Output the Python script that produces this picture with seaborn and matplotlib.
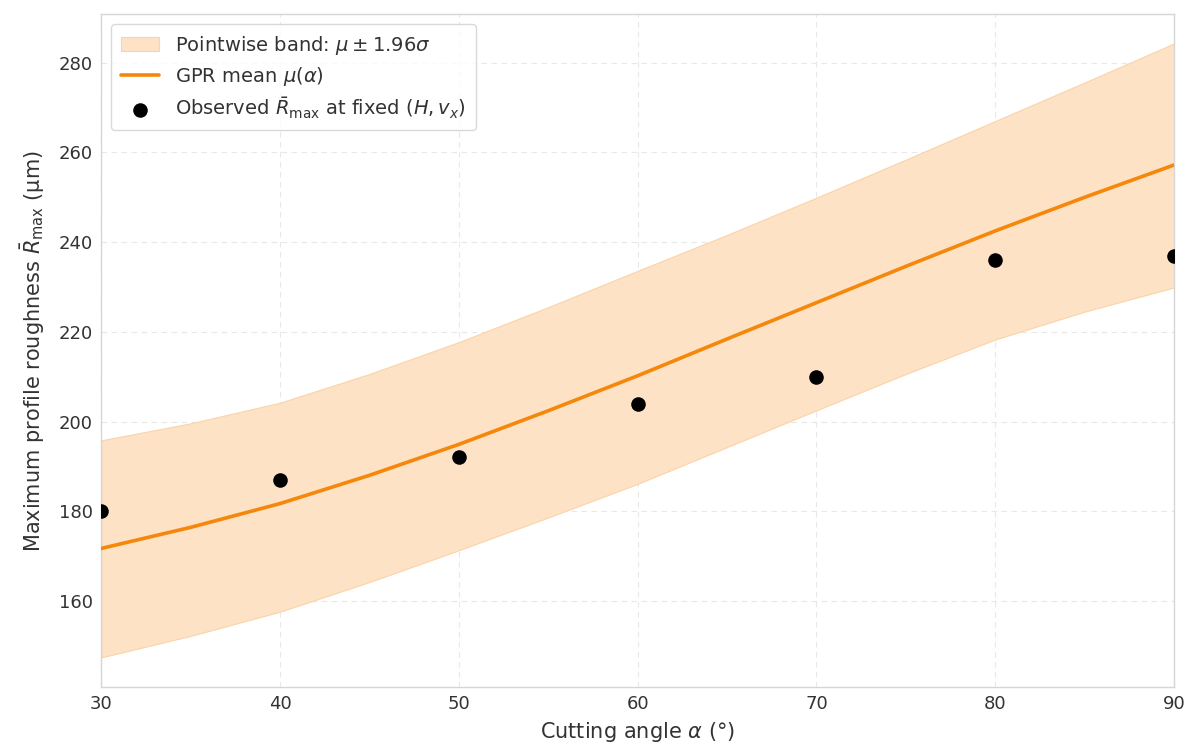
import numpy as np
import pandas as pd
import matplotlib
matplotlib.use("Agg")
import matplotlib.pyplot as plt
import seaborn as sns

# ---- data ----
alpha_grid = [30, 35, 40, 45, 50, 55, 60, 65, 70, 75, 80, 85, 90]
gpr_mean = [171.7, 176.4, 181.7, 188.0, 194.9, 202.4, 210.2, 218.4, 226.5, 234.6, 242.5, 250.0, 257.2]
band_upper = [195.8, 199.6, 204.2, 210.6, 217.7, 225.5, 233.6, 241.6, 249.9, 258.4, 267.0, 275.6, 284.3]
band_lower = [147.4, 152.2, 157.6, 164.2, 171.3, 178.6, 186.1, 194.3, 202.5, 210.6, 218.3, 224.5, 229.9]

obs_alpha = [30, 40, 50, 60, 70, 80, 90]
obs_rmax = [180, 187, 192, 204, 210, 236, 237]

yticks = [160, 180, 200, 220, 240, 260, 280]
xticks = [30, 40, 50, 60, 70, 80, 90]

sns.set_theme(style="whitegrid")
plt.rcParams['font.family'] = ['DejaVu Sans']
plt.rcParams['mathtext.fontset'] = 'dejavusans'

fig, ax = plt.subplots(figsize=(11.9, 7.53), dpi=100)
fig.subplots_adjust(left=0.085, right=0.9866, top=0.981, bottom=0.0876)

orange = "#F5870A"
curve = pd.DataFrame({"alpha": alpha_grid, "mean": gpr_mean,
                      "upper": band_upper, "lower": band_lower})
obs = pd.DataFrame({"alpha": obs_alpha, "rmax": obs_rmax})

ax.fill_between(curve["alpha"], curve["lower"], curve["upper"],
                color="#FDE2C6", alpha=1.0, linewidth=0.8, edgecolor="#FBD3A8",
                label=r"Pointwise band: $\mu \pm 1.96\sigma$", zorder=1)
sns.lineplot(data=curve, x="alpha", y="mean", ax=ax, color=orange, linewidth=2.6,
             label=r"GPR mean $\mu(\alpha)$", zorder=3)
sns.scatterplot(data=obs, x="alpha", y="rmax", ax=ax, color="black", s=110,
                edgecolor="black", linewidth=0,
                label=r"Observed $\bar{R}_{\max}$ at fixed $(H, v_x)$", zorder=4)

ax.set_xlim(30, 90)
ax.set_ylim(140.8, 290.8)
ax.set_xticks(xticks)
ax.set_yticks(yticks)
ax.grid(True, linestyle=(0, (5, 4)), color="#E8E8E8", linewidth=0.8)
for s in ax.spines.values():
    s.set_color("#D6D6D6")
    s.set_linewidth(1.0)
ax.tick_params(axis="both", labelsize=13, colors="#333333", length=0, pad=6)
ax.set_xlabel(r"Cutting angle $\alpha$ (°)", fontsize=15, color="#333333", labelpad=5)
ax.set_ylabel(r"Maximum profile roughness $\bar{R}_{\max}$ (μm)", fontsize=15,
              color="#333333", labelpad=8)

leg = ax.legend(loc="upper left", fontsize=14, frameon=True, borderpad=0.5,
                handlelength=2.0, labelspacing=0.4)
leg.get_frame().set_edgecolor("#D0D0D0")
for t in leg.get_texts():
    t.set_color("#333333")

fig.savefig("out.png", dpi=100)
